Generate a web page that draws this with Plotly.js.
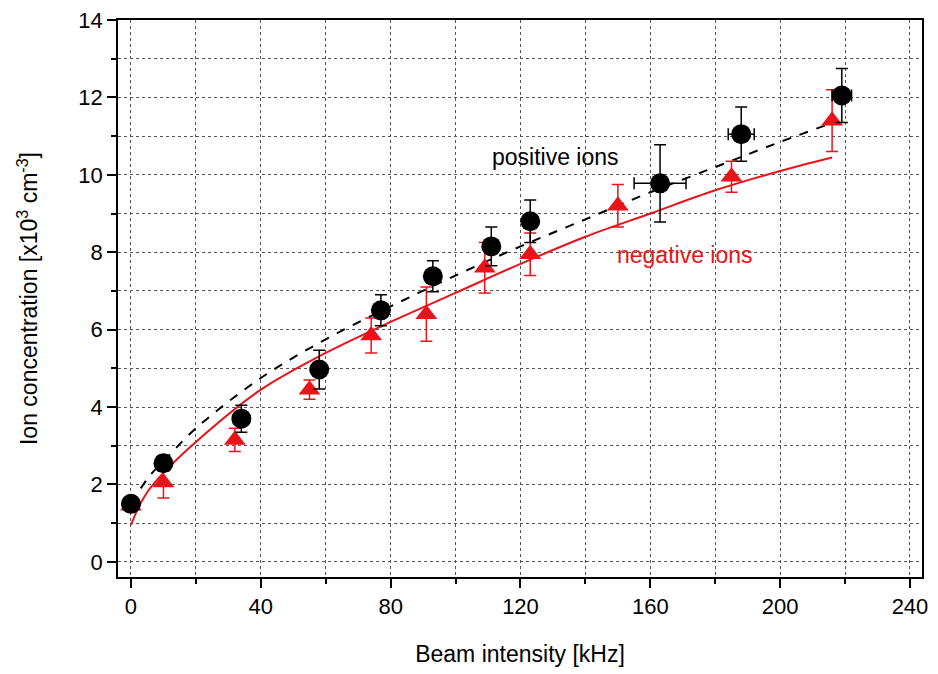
<!DOCTYPE html>
<html><head><meta charset="utf-8">
<script src="https://cdn.plot.ly/plotly-3.0.1.min.js"></script>
<style>body{margin:0}#plot{width:938px;height:674px}</style></head>
<body><div id="plot"></div>
<script>
const posX = [0, 10, 34, 58, 77, 93, 111, 123, 163, 188, 219];
const posY = [1.5, 2.55, 3.7, 4.97, 6.5, 7.38, 8.15, 8.8, 9.78, 11.05, 12.05];
const posErrY = [0.15, 0.2, 0.35, 0.5, 0.4, 0.4, 0.5, 0.55, 1.0, 0.7, 0.7];
const posErrX = [0, 0, 0, 0, 0, 0, 0, 0, 8, 4, 3];
const negX = [0, 10, 32, 55, 74, 91, 109, 123, 150, 185, 216];
const negY = [1.45, 2.05, 3.15, 4.45, 5.85, 6.4, 7.6, 7.95, 9.2, 9.95, 11.4];
const negErrY = [0.1, 0.4, 0.3, 0.25, 0.45, 0.7, 0.65, 0.55, 0.55, 0.4, 0.8];
const posFitX = [3, 6, 10, 20, 40, 60, 80, 100, 120, 140, 160, 180, 200, 218];
const posFitY = [1.9, 2.25, 2.6, 3.45, 4.75, 5.75, 6.6, 7.4, 8.15, 8.85, 9.55, 10.2, 10.85, 11.4];
const negFitX = [0, 2, 5, 10, 20, 40, 60, 80, 100, 120, 140, 160, 180, 200, 216];
const negFitY = [0.95, 1.35, 1.8, 2.3, 3.1, 4.45, 5.4, 6.2, 6.95, 7.7, 8.4, 9.0, 9.6, 10.1, 10.45];

const traces = [
  {x: negFitX, y: negFitY, mode: 'lines', line: {color: '#e8141a', width: 2, shape: 'spline'}},
  {x: posFitX, y: posFitY, mode: 'lines', line: {color: '#000', width: 2, dash: 'dash', shape: 'spline'}},
  {x: negX, y: negY, mode: 'markers', marker: {symbol: 'triangle-up', size: 19, color: '#e8141a'},
   error_y: {type: 'data', array: negErrY, color: '#e8141a', thickness: 1.5, width: 6}},
  {x: posX, y: posY, mode: 'markers', marker: {symbol: 'circle', size: 20, color: '#000'},
   error_y: {type: 'data', array: posErrY, color: '#000', thickness: 1.5, width: 6},
   error_x: {type: 'data', array: posErrX, color: '#000', thickness: 1.5, width: 6}}
];

const axisCommon = {
  showline: true, mirror: true, linecolor: '#000', linewidth: 1.5,
  ticks: 'outside', ticklen: 9, tickwidth: 1.5, tickcolor: '#000',
  gridcolor: '#555', griddash: 'dot', gridwidth: 1, zeroline: false,
  tickfont: {size: 22, color: '#000'},
  minor: {ticks: 'outside', ticklen: 5, tickcolor: '#000', showgrid: true, gridcolor: '#555', griddash: 'dot'}
};

const layout = {
  font: {family: 'Liberation Sans, Arial, sans-serif', color: '#000'},
  margin: {l: 118, r: 16, t: 20, b: 97},
  showlegend: false,
  plot_bgcolor: '#fff',
  xaxis: Object.assign({}, axisCommon, {range: [-4, 243.7], dtick: 40, tick0: 0,
    minor: Object.assign({}, axisCommon.minor, {dtick: 20}),
    title: {text: 'Beam intensity [kHz]', font: {size: 23}, standoff: 28}}),
  yaxis: Object.assign({}, axisCommon, {range: [-0.39, 14], dtick: 2, tick0: 0,
    minor: Object.assign({}, axisCommon.minor, {dtick: 1}),
    title: {text: 'Ion concentration [x10<sup>3</sup> cm<sup>-3</sup>]', font: {size: 23}, standoff: 34}}),
  annotations: [
    {x: 130.7, y: 10.46, text: 'positive ions', showarrow: false, font: {size: 23, color: '#000'}},
    {x: 170.7, y: 7.93, text: 'negative ions', showarrow: false, font: {size: 23, color: '#e8141a'}}
  ]
};

Plotly.newPlot('plot', traces, layout, {displayModeBar: false});
</script></body></html>
